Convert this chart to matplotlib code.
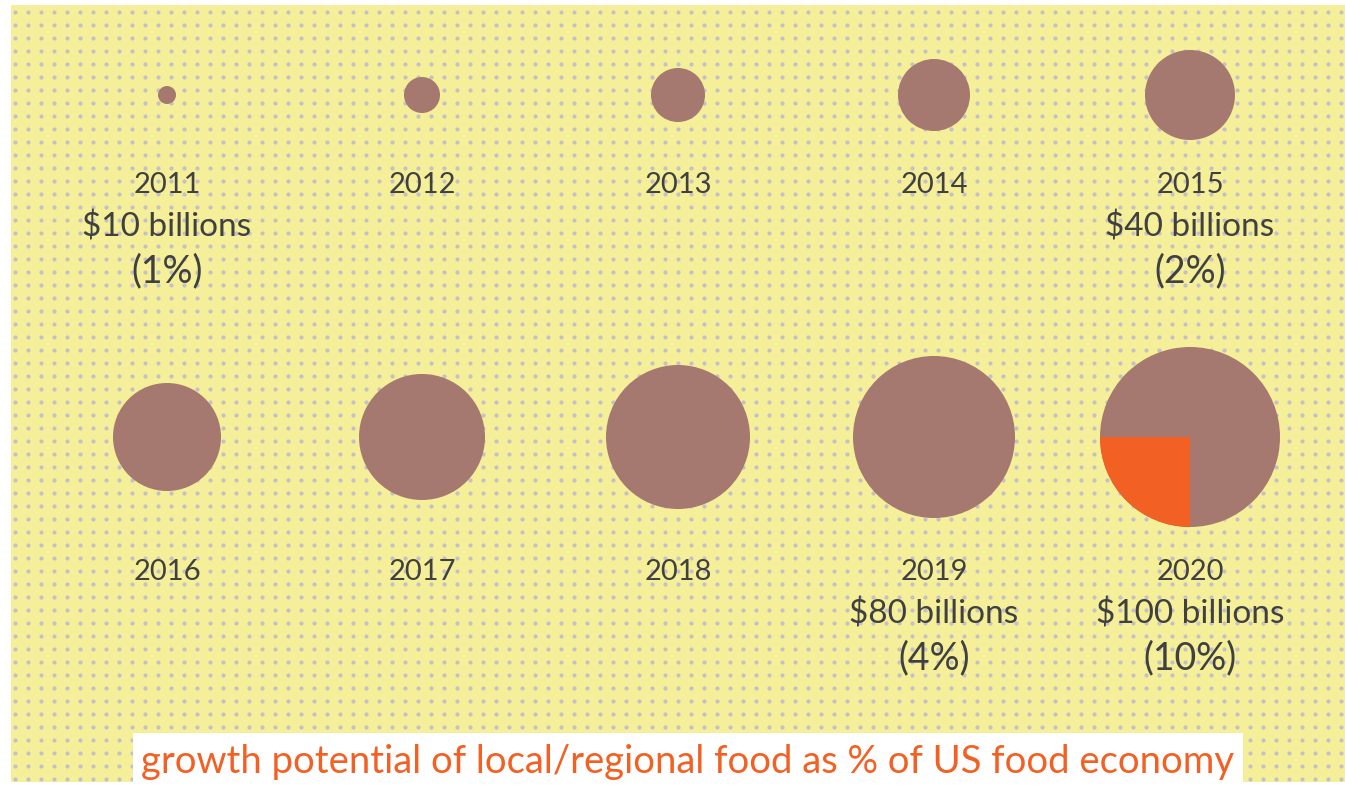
import numpy as np
import matplotlib
matplotlib.use("Agg")
from matplotlib import pyplot as plt
from matplotlib.patches import Circle, Wedge, Rectangle

# data
years = ["2011", "2012", "2013", "2014", "2015", "2016", "2017", "2018", "2019", "2020"]
size_steps = [1, 2, 3, 4, 5, 6, 7, 8, 9, 10]
amounts = ["$10 billions", "", "", "", "$40 billions", "", "", "", "$80 billions", "$100 billions"]
shares = ["(1%)", "", "", "", "(2%)", "", "", "", "(4%)", "(10%)"]
local_share_2020 = 25  # quarter of last circle

W, H = 1345, 785
fig = plt.figure(figsize=(W / 100, H / 100), dpi=100)
ax = fig.add_axes([0, 0, 1, 1])
ax.set_xlim(0, W)
ax.set_ylim(H, 0)
ax.axis("off")

yellow = "#f4ef98"
brown = "#a57870"
orange = "#f26024"
text_col = "#404040"
font = "Lato"

# dotted background panel
ax.add_patch(Rectangle((11, 5), W - 11, 777, facecolor=yellow, edgecolor="none", zorder=0))
gx, gy = np.meshgrid(np.arange(15, W, 13), np.arange(12, 782, 13))
ax.scatter(gx.ravel(), gy.ravel(), s=9, color="#c4c0c6", linewidths=0, zorder=1)

col_x = [167, 422, 678, 934, 1190]
row_y = [95, 437]
label_y = [185, 572]
unit_r = 9

for i, yr in enumerate(years):
    cx = col_x[i % 5]
    cy = row_y[i // 5]
    r = unit_r * size_steps[i]
    ax.add_patch(Circle((cx, cy), r, facecolor=brown, edgecolor="none", zorder=2))
    if yr == "2020":
        ang = 360 * local_share_2020 / 100
        # orange slice sits in the lower-left quadrant (y axis is flipped)
        ax.add_patch(Wedge((cx, cy), r, 180 - ang, 180, facecolor=orange, edgecolor="none", zorder=3))
    ly = label_y[i // 5]
    ax.text(cx, ly, yr, ha="center", va="center", fontsize=21, color=text_col, family=font, zorder=4)
    if amounts[i]:
        ax.text(cx, ly + 42, amounts[i], ha="center", va="center", fontsize=24, color=text_col,
                family=font, zorder=4)
        ax.text(cx, ly + 86, shares[i], ha="center", va="center", fontsize=27, color=text_col,
                family=font, zorder=4)

# title box
ax.add_patch(Rectangle((133, 733), 1110, 52, facecolor="white", edgecolor="none", zorder=5))
ax.text(688, 762, "growth potential of local/regional food as % of US food economy", ha="center",
        va="center", fontsize=27.5, color=orange, family=font, zorder=6)

fig.savefig("out.png", dpi=100, facecolor="white")
